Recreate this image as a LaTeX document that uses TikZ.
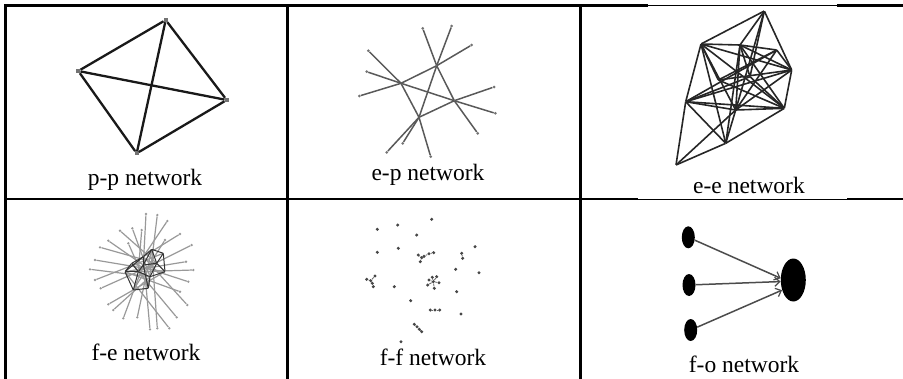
\documentclass[tikz,border=0pt]{standalone}
\usepackage{fontspec}
\setmainfont{Liberation Serif}
\usetikzlibrary{shapes.geometric,arrows.meta}
\begin{document}
\begin{tikzpicture}[x=1pt,y=-1pt,
  lab/.style={anchor=base,inner sep=0pt,font=\fontsize{23.5}{28}\selectfont},
  thickrule/.style={line width=2.8pt,line cap=rect},
  thinrule/.style={line width=1pt},
  ppsq/.style={rectangle,fill=black!55,minimum size=4pt,inner sep=0pt},
  ppline/.style={line width=2.3pt,black!90},
  jn/.style={inner sep=0pt,minimum size=0pt},
  epdot/.style={circle,fill=black!55,minimum size=3pt,inner sep=0pt},
  epline/.style={line width=1.5pt,black!65},
  eeline/.style={line width=1.6pt,black!85},
  fedot/.style={circle,fill=black!40,minimum size=2.6pt,inner sep=0pt},
  fespoke/.style={line width=1.2pt,black!40},
  fecore/.style={line width=1pt,black!80},
  ffdot/.style={circle,fill=black!72,minimum size=3.4pt,inner sep=0pt},
  ffline/.style={line width=0.8pt,black!60},
  fosmall/.style={ellipse,fill=black,minimum width=13pt,minimum height=22pt,inner sep=0pt},
  fobig/.style={ellipse,fill=black,minimum width=25pt,minimum height=43pt,inner sep=0pt},
  foarrow/.style={line width=1.5pt,black!70,-{Straight Barb[length=5pt,width=9pt,line width=1.2pt]}}
]
\useasboundingbox (0,0) rectangle (903,378);

% ---------------- table rules ----------------
\draw[thickrule] (5.5,5.5) -- (647,5.5);
\draw[thinrule] (647,5.5) -- (838,5.5);
\draw[thickrule] (838,5.5) -- (903,5.5);
\draw[thickrule] (5.5,199) -- (637,199);
\draw[thinrule] (637,199) -- (848,199);
\draw[thickrule] (848,199) -- (903,199);
\draw[thickrule] (5.5,5.5) -- (5.5,380);
\draw[thickrule] (287.3,5.5) -- (287.3,380);
\draw[thickrule] (580.3,5.5) -- (580.3,380);

% ---------------- p-p network ----------------
\node[ppsq] (ppT) at (165.7,20) {};
\node[ppsq] (ppL) at (78.3,71) {};
\node[ppsq] (ppR) at (226.7,100) {};
\node[ppsq] (ppB) at (136.7,153.3) {};
\foreach \a/\b in {ppT/ppL,ppT/ppR,ppT/ppB,ppL/ppR,ppL/ppB,ppR/ppB}
  \draw[ppline] (\a) -- (\b);
\node[lab] (lpp) at (145,185) {p-p network};

% ---------------- e-p network ----------------
\foreach \n/\x/\y in {epA/401/83.3, epC/436.7/65.7, epB/454.3/100.7, epD/419/117.3}
  \node[jn] (\n) at (\x,\y) {};
\foreach \n/\x/\y in {ep1/368.3/50.7, ep2/366.7/71.7, ep3/359.3/96, ep4/422.7/28.3,
  ep5/451.7/26, ep6/471.7/45, ep7/494/87, ep8/495.3/113.3, ep9/477.7/133.3,
  ep10/430.7/156.7, ep11/402.7/143.3, ep12/386.7/152.3}
  \node[epdot] (\n) at (\x,\y) {};
\foreach \a/\b in {ep1/epA,ep2/epA,ep3/epA,epA/epC,epA/epB,epA/epD,
  ep4/epC,ep5/epC,ep6/epC,epC/epB,epC/epD,
  ep7/epB,ep8/epB,ep9/epB,epB/epD,
  ep10/epD,ep11/epD,ep12/epD}
  \draw[epline] (\a) -- (\b);
\node[lab] (lep) at (428,180.5) {e-p network};

% ---------------- e-e network ----------------
\foreach \n/\x/\y in {eT/764.3/11, eN1/701/44, eN2/740/45, eN3/776.7/50, eR/791.7/70,
  eM1/750/76.7, eM2/718.3/80, eL/685.7/101.7, eC/735.7/110, eRb/784.3/108.3,
  eBm/725.7/143.3, eBl/676/165}
  \node[jn] (\n) at (\x,\y) {};
\foreach \a/\b in {eT/eN1,eT/eN2,eT/eR,eT/eM1,eT/eC,
  eN1/eN2,eN1/eL,eN1/eM2,eN1/eC,eN1/eRb,eN1/eBm,eN1/eR,
  eN2/eN3,eN2/eR,eN2/eM1,eN2/eC,eN2/eRb,eN2/eBm,
  eN3/eL,eN3/eM2,eN3/eR,eN3/eC,
  eR/eL,eR/eRb,eR/eC,eR/eM2,
  eM1/eL,eM1/eRb,eM2/eRb,
  eL/eC,eL/eRb,eL/eBm,eL/eBl,
  eC/eRb,eC/eBm,eC/eBl,
  eBm/eBl,eBm/eRb}
  \draw[eeline] (\a) -- (\b);
\node[lab] (lee) at (749,193) {e-e network};

% ---------------- f-e network ----------------
\foreach \n/\x/\y in {fc1/125/271.7, fc2/131.7/263.3, fc3/143.3/256.7, fc4/151.7/249.3,
  fc5/163.3/253.3, fc6/165/271.7, fc7/138.3/271.7, fc8/150/276.7, fc9/133.3/290,
  fc10/148.3/288.3, fc11/143.3/265, fc12/156.7/263.3}
  \node[jn] (\n) at (\x,\y) {};
\foreach \n/\x/\y in {fe1/146/214, fe2/157.3/215, fe3/167.3/221, fe4/132.3/228.3,
  fe5/141.7/230, fe6/120/230.7, fe7/180/234, fe8/108.3/240.7, fe9/191.7/245,
  fe10/100/247.3, fe11/95/260, fe12/90/269.3, fe13/186/261.7, fe14/193.3/270,
  fe15/95/280, fe16/188.3/281.7, fe17/100.7/288.3, fe18/180/291.7, fe19/108.3/304.3,
  fe20/187.3/305, fe21/113.3/310, fe22/123.3/318.3, fe23/176.7/317.3, fe24/137.3/317.3,
  fe25/150/329.3, fe26/157.3/328.3, fe27/169.3/328.3, fe28/165/240, fe29/128.3/243.3}
  \node[fedot] (\n) at (\x,\y) {};
\foreach \a/\b in {fe1/fc11,fe2/fc10,fe3/fc3,fe4/fc8,fe5/fc7,fe6/fc12,fe7/fc3,fe8/fc11,
  fe9/fc7,fe10/fc12,fe11/fc6,fe12/fc8,fe13/fc1,fe14/fc7,fe15/fc5,fe16/fc2,fe17/fc12,
  fe18/fc1,fe19/fc6,fe20/fc3,fe21/fc8,fe22/fc11,fe23/fc2,fe24/fc4,fe25/fc3,fe26/fc4,
  fe27/fc1,fe28/fc9,fe29/fc10}
  \draw[fespoke] (\a) -- (\b);
\foreach \a/\b in {fc1/fc2,fc2/fc3,fc3/fc4,fc4/fc5,fc5/fc6,fc6/fc8,fc8/fc7,fc7/fc1,
  fc1/fc9,fc9/fc10,fc10/fc8,fc3/fc11,fc11/fc12,fc12/fc5,fc11/fc7,fc4/fc11,fc12/fc6,
  fc2/fc7,fc11/fc10,fc12/fc8,fc1/fc3,fc4/fc12,fc9/fc7}
  \draw[fecore] (\a) -- (\b);
\node[lab] (lfe) at (146,360) {f-e network};

% ---------------- f-f network ----------------
\foreach \n/\x/\y in {ff1/377.3/229.3, ff2/397.7/225, ff3/431.7/219.3, ff4/416.7/235,
  ff5/377.3/252.3, ff6/398.3/248.3, ff7/475/246.7, ff8/479/272.7, ff9/455.7/269.3,
  ff10/394.3/286.7, ff11/456.7/291.7, ff12/410.7/300.7, ff13/461/314, ff14/401/341.7,
  ffa1/418.3/255, ffa2/421.7/257.7, ffa3/424/256.3, ffa4/420.3/261.7, ffa5/429/253.7, ffa6/433.7/252.7,
  ffp1/461.7/253.3, ffp2/462.7/258.3,
  ffy1/366.7/279.3, ffy2/370.7/280.7, ffy3/375/276, ffy4/372.3/283.3, ffy5/373.3/286.7,
  ffs0/433.3/281.7, ffs1/429/280, ffs2/436.7/276.7, ffs3/432.3/277.3, ffs4/439/282.7,
  ffs5/434.3/288.3, ffs6/427.7/285,
  fft1/430.3/310, fft2/435/310, fft3/439.7/310,
  ffc1/414.3/324.3, ffc2/417/326.7, ffc3/419.3/329.3, ffc4/421.7/331.7}
  \node[ffdot] (\n) at (\x,\y) {};
\foreach \a/\b in {ffa1/ffa2,ffa2/ffa3,ffa2/ffa4,ffa3/ffa5,ffa5/ffa6,ffp1/ffp2,
  ffy1/ffy2,ffy2/ffy3,ffy2/ffy4,ffy4/ffy5,
  ffs0/ffs1,ffs0/ffs2,ffs0/ffs3,ffs0/ffs4,ffs0/ffs5,ffs0/ffs6,
  fft1/fft2,fft2/fft3,ffc1/ffc2,ffc2/ffc3,ffc3/ffc4}
  \draw[ffline] (\a) -- (\b);
\node[lab] (lff) at (433,365) {f-f network};

% ---------------- f-o network ----------------
\node[fosmall] (fo1) at (688.3,237.3) {};
\node[fosmall] (fo2) at (689,285) {};
\node[fosmall] (fo3) at (690.7,330) {};
\node[fobig] (fob) at (793.3,280) {};
\draw[foarrow] (fo1) -- (fob.172);
\draw[foarrow] (fo2) -- (fob.187);
\draw[foarrow] (fo3) -- (fob.222);
\node[lab] (lfo) at (744,372) {f-o network};
\end{tikzpicture}
\end{document}
